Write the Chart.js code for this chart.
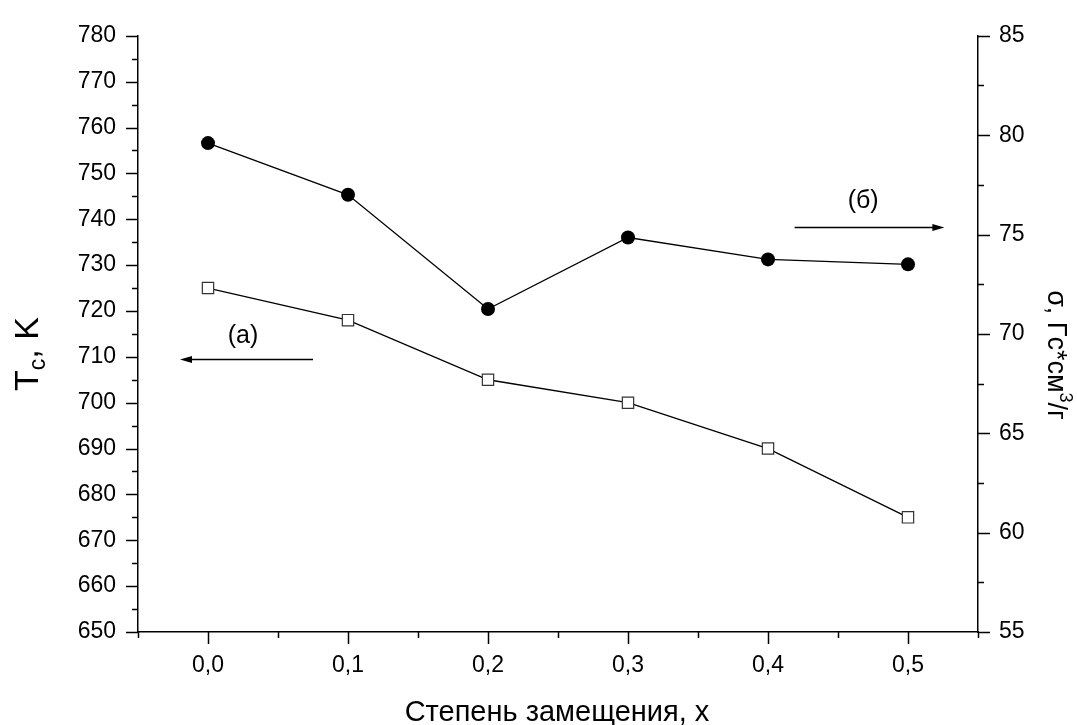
<!DOCTYPE html>
<html lang="ru">
<head>
  <meta charset="UTF-8">
  <title>Tc и σ от степени замещения</title>
  <script src="https://cdn.jsdelivr.net/npm/chart.js"></script>
  <style>
    html, body {
      margin: 0;
      padding: 0;
      background: #ffffff;
    }
    .chart-container {
      position: relative;
      width: 1077px;
      height: 725px;
    }
  </style>
</head>
<body>

<div class="chart-container"><canvas id="tcChart"></canvas></div>

<script>
  // x = степень замещения
  const xValues = [0.0, 0.1, 0.2, 0.3, 0.4, 0.5];
  // (а) температура Кюри, K (левая ось)
  const tcValues = [725, 718, 705, 700, 690, 675];
  // (б) намагниченность σ, Гс*см3/г (правая ось)
  const sigmaValues = [79.6, 77.0, 71.25, 74.85, 73.75, 73.5];

  // axis ranges / ticks
  const xRange = [-0.05, 0.55];
  const tcRange = [650, 780];
  const sigmaRange = [55, 85];

  // arrows pointing to the axis of each series (data units)
  const arrowA = { axis: 'y', y: 709.4, from: 0.075, to: -0.02, label: '(а)', labelX: 0.025, labelY: 714.5 };
  const arrowB = { axis: 'y2', y: 75.36, from: 0.419, to: 0.526, label: '(б)', labelX: 0.468, labelY: 76.7 };

  const FONT = "'Liberation Sans', Arial, sans-serif";

  const isMultiple = (v, step) => Math.abs(v / step - Math.round(v / step)) < 1e-6;

  const pts = (ys) => xValues.map((x, i) => ({ x, y: ys[i] }));

  // tick marks: long for labelled, short for the rest, pointing outward
  const tickPlugin = {
    id: 'originTicks',
    afterDraw(chart) {
      const ctx = chart.ctx;
      const area = chart.chartArea;
      ctx.save();
      ctx.strokeStyle = '#000';
      ctx.lineWidth = 1.5;
      const marks = [
        { s: chart.scales.x, step: 0.1 },
        { s: chart.scales.y, step: 10 },
        { s: chart.scales.y2, step: 5 }
      ];
      marks.forEach(({ s, step }) => {
        s.ticks.forEach(t => {
          const major = isMultiple(t.value, step);
          const len = major ? 12 : 6;
          const p = Math.round(s.getPixelForValue(t.value)) + 0.5;
          ctx.beginPath();
          if (s.id === 'x') {
            ctx.moveTo(p, area.bottom);
            ctx.lineTo(p, area.bottom + len);
          } else if (s.id === 'y') {
            ctx.moveTo(area.left, p);
            ctx.lineTo(area.left - len, p);
          } else {
            ctx.moveTo(area.right, p);
            ctx.lineTo(area.right + len, p);
          }
          ctx.stroke();
        });
      });
      ctx.restore();
    }
  };

  // arrows with (а)/(б) labels + axis titles
  const annotationPlugin = {
    id: 'annotations',
    afterDraw(chart) {
      const ctx = chart.ctx;
      const xs = chart.scales.x;
      ctx.save();
      ctx.fillStyle = '#000';
      ctx.strokeStyle = '#000';
      ctx.lineWidth = 1.5;

      [arrowA, arrowB].forEach(a => {
        const ys = chart.scales[a.axis];
        const y = ys.getPixelForValue(a.y);
        const x0 = xs.getPixelForValue(a.from);
        const x1 = xs.getPixelForValue(a.to);
        const dir = Math.sign(x1 - x0);
        ctx.beginPath();
        ctx.moveTo(x0, y);
        ctx.lineTo(x1 - dir * 8, y);
        ctx.stroke();
        ctx.beginPath();
        ctx.moveTo(x1, y);
        ctx.lineTo(x1 - dir * 12, y - 3.5);
        ctx.lineTo(x1 - dir * 12, y + 3.5);
        ctx.closePath();
        ctx.fill();

        ctx.font = '25px ' + FONT;
        ctx.textAlign = 'center';
        ctx.textBaseline = 'middle';
        ctx.fillText(a.label, xs.getPixelForValue(a.labelX), ys.getPixelForValue(a.labelY));
      });

      // x axis title
      ctx.font = '29px ' + FONT;
      ctx.textAlign = 'center';
      ctx.textBaseline = 'alphabetic';
      ctx.fillText('Степень замещения, x', 557, 721);

      // left title: T_c, K
      ctx.save();
      ctx.translate(38, 354);
      ctx.rotate(-Math.PI / 2);
      ctx.textAlign = 'left';
      ctx.textBaseline = 'alphabetic';
      const bigF = '34px ' + FONT;
      const subF = '23px ' + FONT;
      ctx.font = bigF;
      const wT = ctx.measureText('T').width;
      ctx.font = subF;
      const wc = ctx.measureText('c').width;
      ctx.font = bigF;
      const wK = ctx.measureText(', K').width;
      let cx = -(wT + wc + wK) / 2;
      ctx.fillText('T', cx, 0);
      cx += wT;
      ctx.font = subF;
      ctx.fillText('c', cx, 7);
      cx += wc;
      ctx.font = bigF;
      ctx.fillText(', K', cx, 0);
      ctx.restore();

      // right title: σ, Гс*см³/г
      ctx.save();
      ctx.translate(1048, 355);
      ctx.rotate(Math.PI / 2);
      ctx.textAlign = 'left';
      ctx.textBaseline = 'alphabetic';
      const rF = '27px ' + FONT;
      const supF = '18px ' + FONT;
      ctx.font = rF;
      const p1 = 'σ, Гс*см';
      const w1 = ctx.measureText(p1).width;
      const w3 = ctx.measureText('/г').width;
      ctx.font = supF;
      const w2 = ctx.measureText('3').width;
      let rx = -(w1 + w2 + w3) / 2;
      ctx.font = rF;
      ctx.fillText(p1, rx, 0);
      rx += w1;
      ctx.font = supF;
      ctx.fillText('3', rx, -12);
      rx += w2;
      ctx.font = rF;
      ctx.fillText('/г', rx, 0);
      ctx.restore();

      ctx.restore();
    }
  };

  const axisGrid = {
    display: true,
    drawOnChartArea: false,
    drawTicks: false
  };
  const axisBorder = { display: true, color: '#000', width: 1.5 };
  const tickFont = { family: FONT, size: 23 };

  new Chart(document.getElementById('tcChart').getContext('2d'), {
    type: 'line',
    data: {
      datasets: [
        {
          label: 'Tc',
          data: pts(tcValues),
          yAxisID: 'y',
          borderColor: '#000',
          borderWidth: 1.3,
          pointStyle: 'rect',
          pointRadius: 8,
          pointBorderWidth: 1.2,
          pointBorderColor: '#333',
          pointBackgroundColor: '#fff',
          tension: 0
        },
        {
          label: 'σ',
          data: pts(sigmaValues),
          yAxisID: 'y2',
          borderColor: '#000',
          borderWidth: 1.3,
          pointStyle: 'circle',
          pointRadius: 7,
          pointBorderWidth: 0,
          pointBackgroundColor: '#000',
          tension: 0
        }
      ]
    },
    options: {
      responsive: true,
      maintainAspectRatio: false,
      animation: false,
      layout: { padding: { top: 28, left: 0, right: 0, bottom: 0 } },
      plugins: {
        legend: { display: false },
        tooltip: { enabled: false }
      },
      scales: {
        x: {
          type: 'linear',
          position: 'bottom',
          min: xRange[0],
          max: xRange[1],
          grid: axisGrid,
          border: axisBorder,
          afterFit(scale) { scale.height = 93; },
          ticks: {
            stepSize: 0.05,
            autoSkip: false,
            maxRotation: 0,
            padding: 20,
            color: '#000',
            font: tickFont,
            callback(v) {
              if (v < -1e-9 || v > 0.5 + 1e-9 || !isMultiple(v, 0.1)) return '';
              return Math.abs(v).toFixed(1).replace('.', ',');
            }
          }
        },
        y: {
          type: 'linear',
          position: 'left',
          min: tcRange[0],
          max: tcRange[1],
          grid: axisGrid,
          border: axisBorder,
          afterFit(scale) { scale.width = 138; },
          ticks: {
            stepSize: 5,
            autoSkip: false,
            padding: 22,
            color: '#000',
            font: tickFont,
            callback(v) { return isMultiple(v, 10) ? String(v) : ''; }
          }
        },
        y2: {
          type: 'linear',
          position: 'right',
          min: sigmaRange[0],
          max: sigmaRange[1],
          grid: axisGrid,
          border: axisBorder,
          afterFit(scale) { scale.width = 99; },
          ticks: {
            stepSize: 2.5,
            autoSkip: false,
            padding: 21,
            color: '#000',
            font: tickFont,
            callback(v) { return isMultiple(v, 5) ? String(v) : ''; }
          }
        }
      }
    },
    plugins: [tickPlugin, annotationPlugin]
  });
</script>

</body>
</html>
